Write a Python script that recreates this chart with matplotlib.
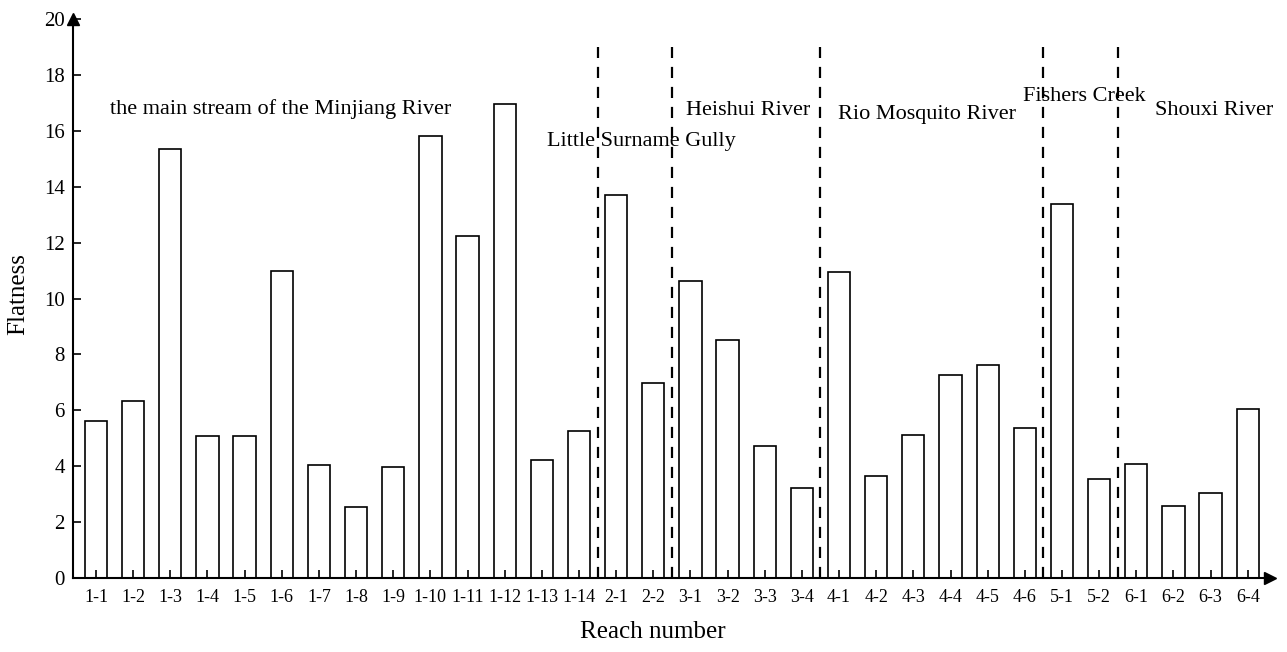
import matplotlib
matplotlib.use('Agg')
import matplotlib.pyplot as plt

# Reach numbers and flatness values
reaches = ['1-1', '1-2', '1-3', '1-4', '1-5', '1-6', '1-7', '1-8', '1-9', '1-10',
           '1-11', '1-12', '1-13', '1-14', '2-1', '2-2', '3-1', '3-2', '3-3', '3-4',
           '4-1', '4-2', '4-3', '4-4', '4-5', '4-6', '5-1', '5-2', '6-1', '6-2',
           '6-3', '6-4']
flatness = [5.62, 6.33, 15.35, 5.08, 5.08, 10.98, 4.04, 2.54, 3.97, 15.81,
            12.24, 16.96, 4.22, 5.26, 13.70, 6.98, 10.63, 8.52, 4.72, 3.22,
            10.95, 3.65, 5.12, 7.26, 7.62, 5.37, 13.38, 3.54, 4.08, 2.58,
            3.04, 6.05]

# river groups: label, first reach index in group
rivers = ['the main stream of the Minjiang River', 'Little Surname Gully',
          'Heishui River', 'Rio Mosquito River', 'Fishers Creek', 'Shouxi River']
river_start = [0, 14, 16, 20, 26, 28]

plt.rcParams['font.family'] = ['Liberation Serif', 'DejaVu Serif']

fig = plt.figure(figsize=(12.87, 6.52), dpi=100)
ax = fig.add_axes([73 / 1287, 74 / 652, (1270 - 73) / 1287, (578 - 19) / 652])

x = list(range(len(reaches)))
ax.bar(x, flatness, width=0.6, color='white', edgecolor='black', linewidth=1.2)

# group separators
for s in river_start[1:]:
    ax.plot([s - 0.5, s - 0.5], [0, 19], color='black', linestyle=(0, (5, 4)),
            linewidth=1.6)

# group labels (x in bar units, y in data units)
label_pos = [(0.38, 16.78), (12.14, 15.6), (15.88, 16.72),
             (19.97, 16.6), (24.95, 17.24), (28.5, 16.72)]
for name, (lx, ly) in zip(rivers, label_pos):
    ax.text(lx, ly, name, ha='left', va='center', fontsize=16)

ax.set_xlim(-0.62, 31.6)
ax.set_ylim(0, 20)
ax.set_xticks(x)
ax.set_xticklabels(reaches, fontsize=13)
ax.set_yticks(range(0, 21, 2))
ax.tick_params(axis='y', labelsize=15, direction='in', length=6, width=1.2, pad=6)
ax.tick_params(axis='x', direction='in', length=6, width=1.2, pad=8)

for side in ['top', 'right']:
    ax.spines[side].set_visible(False)
for side in ['left', 'bottom']:
    ax.spines[side].set_linewidth(1.5)

# axis arrows
ax.plot(1, 0, '>k', transform=ax.transAxes, clip_on=False, markersize=8)
ax.plot(0, 1, '^k', transform=ax.transAxes, clip_on=False, markersize=8)

ax.set_xlabel('Reach number', fontsize=18)
ax.set_ylabel('Flatness', fontsize=18)
ax.xaxis.set_label_coords((653 - 73) / (1270 - 73), -(621 - 578) / (578 - 19))
ax.yaxis.set_label_coords(-(73 - 29) / (1270 - 73), (578 - 294) / (578 - 19))

plt.savefig('out.png', dpi=100)
plt.close()
